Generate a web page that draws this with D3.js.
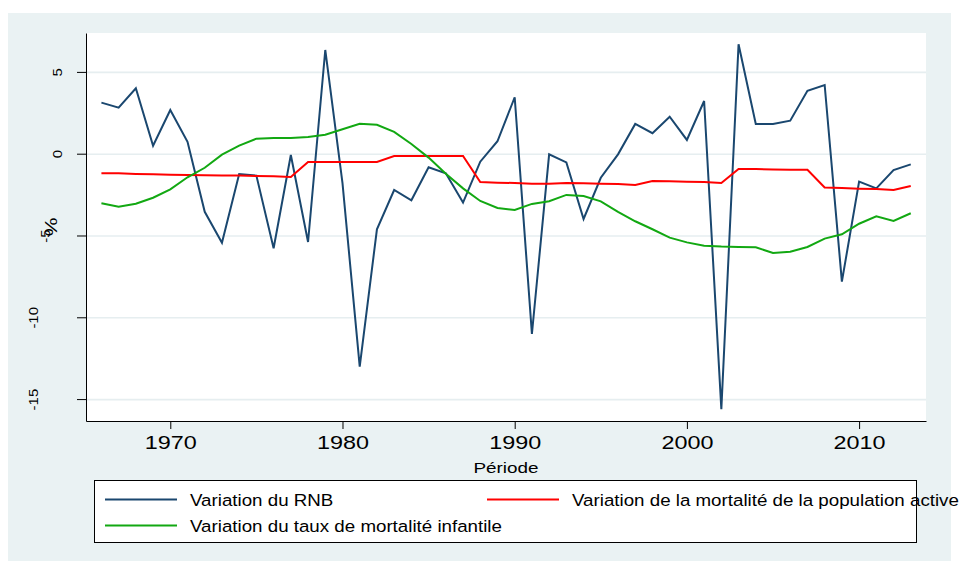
<!DOCTYPE html>
<html>
<head>
<meta charset="utf-8">
<script src="https://cdn.jsdelivr.net/npm/d3@7"></script>
<style>
  body { margin: 0; background: #fff; }
  text { font-family: "Liberation Sans", Arial, sans-serif; fill: #000; }
</style>
</head>
<body>
<svg id="chart" width="963" height="561"></svg>
<script>
const years = [1966,1967,1968,1969,1970,1971,1972,1973,1974,1975,1976,1977,1978,1979,
  1980,1981,1982,1983,1984,1985,1986,1987,1988,1989,1990,1991,1992,1993,1994,1995,1996,1997,
  1998,1999,2000,2001,2002,2003,2004,2005,2006,2007,2008,2009,2010,2011,2012,2013];

// variation du RNB
const rnb = [3.12,2.81,4.0,0.49,2.67,0.73,-3.55,-5.44,-1.24,-1.34,-5.78,-0.08,-5.40,6.34,
  -1.8,-13.02,-4.62,-2.22,-2.85,-0.83,-1.20,-2.99,-0.49,0.76,3.45,-11.02,-0.04,-0.53,-3.99,-1.47,-0.04,1.82,
  1.25,2.26,0.84,3.22,-15.62,6.69,1.82,1.82,2.02,3.85,4.20,-7.82,-1.71,-2.12,-1.0,-0.65];

// variation de la mortalité de la population active
const mortActive = [-1.20,-1.20,-1.24,-1.26,-1.28,-1.30,-1.32,-1.34,-1.34,-1.36,-1.38,-1.42,
  -0.51,-0.51,-0.51,-0.51,-0.51,-0.14,-0.14,-0.14,-0.14,-0.14,
  -1.73,-1.77,-1.79,-1.83,-1.83,-1.79,-1.81,-1.83,-1.85,-1.91,
  -1.67,-1.69,-1.71,-1.73,-1.79,-0.94,-0.94,-0.96,-0.98,-0.98,
  -2.06,-2.10,-2.14,-2.16,-2.22,-1.97];

// variation du taux de mortalité infantile
const mortInf = [-3.03,-3.24,-3.06,-2.69,-2.18,-1.44,-0.86,-0.06,0.49,0.92,0.96,0.96,1.02,1.16,
  1.49,1.83,1.77,1.33,0.59,-0.24,-1.22,-2.12,-2.89,-3.32,-3.44,-3.07,-2.91,-2.52,-2.59,-2.91,-3.56,-4.13,
  -4.62,-5.13,-5.42,-5.62,-5.68,-5.70,-5.72,-6.07,-5.99,-5.70,-5.19,-4.93,-4.28,-3.83,-4.11,-3.64];

const xTicks = [1970,1980,1990,2000,2010];
const yTicks = [-15,-10,-5,0,5];
const seriesNames = ["Variation du RNB",
  "Variation de la mortalité de la population active",
  "Variation du taux de mortalité infantile"];
const seriesColors = ["#1a476f", "#ff0000", "#12a812"];

const svg = d3.select("#chart");
const pLeft = 86, pRight = 926, pTop = 33, pBottom = 421;

// fond gris (graph region) + zone blanche
svg.append("rect").attr("x", 8).attr("y", 13).attr("width", 943).attr("height", 548).attr("fill", "#eaf2f3");
svg.append("rect").attr("x", pLeft).attr("y", pTop).attr("width", pRight - pLeft).attr("height", pBottom - pTop).attr("fill", "#fff");

const x = d3.scaleLinear().domain([1965.105, 2013.885]).range([pLeft, pRight]);
const y = d3.scaleLinear().domain([-16.34, 7.378]).range([pBottom, pTop]);

// grille horizontale
svg.append("g")
  .attr("transform", `translate(${pLeft},0)`)
  .call(d3.axisLeft(y).tickValues(yTicks).tickSize(-(pRight - pLeft)).tickFormat(""))
  .call(g => g.select(".domain").remove())
  .call(g => g.selectAll("line").attr("stroke", "#e6eef0").attr("stroke-width", 1.6));

// courbes
const series = [rnb, mortActive, mortInf];
series.forEach((vals, i) => {
  const line = d3.line().x((d, j) => x(years[j])).y(d => y(d));
  svg.append("path")
    .datum(vals)
    .attr("d", line)
    .attr("fill", "none")
    .attr("stroke", seriesColors[i])
    .attr("stroke-width", 2)
    .attr("stroke-linejoin", "miter");
});

// axe Y
svg.append("g")
  .attr("transform", `translate(${pLeft},0)`)
  .call(d3.axisLeft(y).tickValues(yTicks).tickSize(9).tickSizeOuter(0).tickFormat(d => String(d)))
  .call(g => g.selectAll(".tick text")
    .attr("x", 0).attr("dy", 0)
    .attr("text-anchor", "middle")
    .style("font-size", "15px")
    .attr("transform", d => `translate(${-24 - 12 * (String(d).length - 1)},0) scale(0.8,1) rotate(-90)`));

svg.append("text")
  .attr("transform", `translate(57,${(pTop + pBottom) / 2}) scale(0.8,1) rotate(-90)`)
  .attr("text-anchor", "middle")
  .style("font-size", "21px")
  .text("%");

// axe X
svg.append("g")
  .attr("transform", `translate(0,${pBottom})`)
  .call(d3.axisBottom(x).tickValues(xTicks).tickSize(8).tickSizeOuter(0).tickFormat(d => String(d)))
  .call(g => g.selectAll(".tick text")
    .attr("y", 0).attr("dy", 0)
    .style("font-size", "18px")
    .attr("transform", "translate(0,28) scale(1.3,1)"));

svg.append("text")
  .attr("transform", `translate(${(pLeft + pRight) / 2},473) scale(1.35,1)`)
  .attr("text-anchor", "middle")
  .style("font-size", "14px")
  .text("Période");

// légende
svg.append("rect").attr("x", 94.5).attr("y", 480.5).attr("width", 822).attr("height", 62)
  .attr("fill", "#fff").attr("stroke", "#000").attr("stroke-width", 1);

const legPos = [[105, 499.5], [487, 499.5], [105, 525.5]];
seriesNames.forEach((name, i) => {
  const [lx, ly] = legPos[i];
  svg.append("line").attr("x1", lx).attr("x2", lx + 72).attr("y1", ly).attr("y2", ly)
    .attr("stroke", seriesColors[i]).attr("stroke-width", 2);
  svg.append("text")
    .attr("transform", `translate(${lx + 85},${ly + 6.5}) scale(1.15,1)`)
    .style("font-size", "16.3px")
    .text(name);
});
</script>
</body>
</html>
